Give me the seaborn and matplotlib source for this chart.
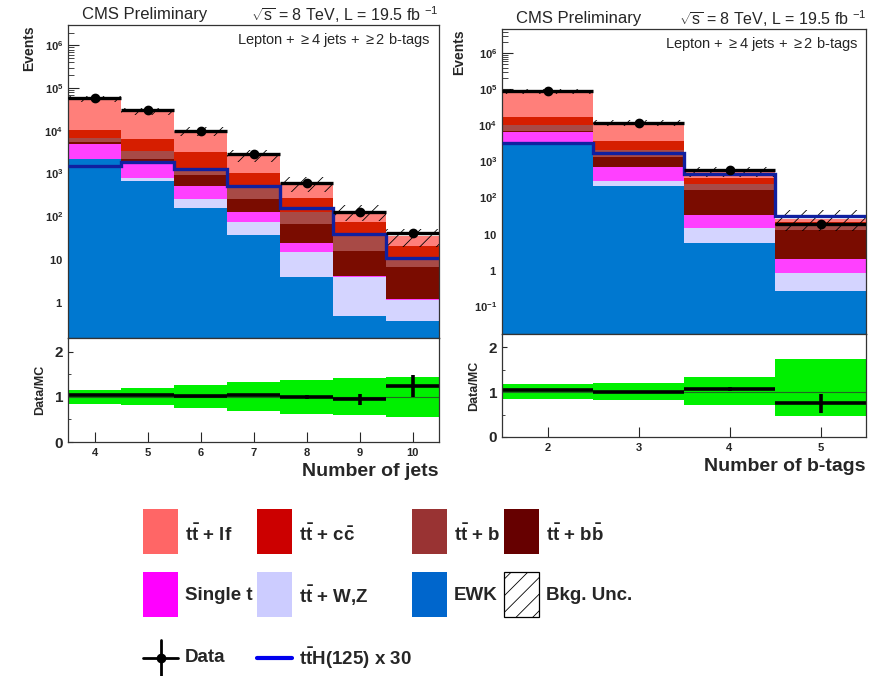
import numpy as np
import pandas as pd
import matplotlib
matplotlib.use('Agg')
import matplotlib.pyplot as plt
import seaborn as sns
from matplotlib.patches import Rectangle
from matplotlib.lines import Line2D
from matplotlib.ticker import FixedLocator, FuncFormatter, MultipleLocator

sns.set_style('ticks')
plt.rcParams['font.family'] = ['Liberation Sans', 'DejaVu Sans']
plt.rcParams['mathtext.fontset'] = 'custom'
plt.rcParams['mathtext.rm'] = 'Liberation Sans'
plt.rcParams['mathtext.bf'] = 'Liberation Sans:bold'
plt.rcParams['mathtext.it'] = 'Liberation Sans:italic'
plt.rcParams['hatch.linewidth'] = 0.6

# --- data -------------------------------------------------------------
processes = ['ttlf', 'ttcc', 'ttb', 'ttbb', 'singlet', 'ttV', 'ewk']
colors = {'ttlf': '#FF7F7A', 'ttcc': '#D61E00', 'ttb': '#A84A46', 'ttbb': '#7A0C00',
          'singlet': '#FF40FF', 'ttV': '#D4D4FF', 'ewk': '#0078D0'}
leg_colors = {'ttlf': '#FF6666', 'ttcc': '#CC0000', 'ttb': '#993333', 'ttbb': '#660000',
              'singlet': '#FF00FF', 'ttV': '#CCCCFF', 'ewk': '#0066CC'}

# number of jets
njets = [4, 5, 6, 7, 8, 9, 10]
jets_yields = {
    'ewk':     [2150, 670, 158, 36, 3.85, 0.45, 0.35],
    'ttV':     [60, 130, 92, 37, 10.6, 3.4, 0.75],
    'singlet': [2800, 1150, 270, 54, 9.5, 0.1, 0.05],
    'ttbb':    [350, 250, 380, 130, 43, 11.5, 5.4],
    'ttb':     [1550, 1180, 340, 223, 60, 18.6, 3.0],
    'ttcc':    [3400, 2920, 1860, 520, 140, 37, 10.1],
    'ttlf':    [47000, 22300, 6700, 1720, 339, 61, 15],
}
jets_data = [59000, 30000, 9900, 2800, 600, 128, 41]
jets_tth = [1500, 1900, 1300, 510, 158, 39, 10.7]
jets_unc = [0.16, 0.19, 0.25, 0.32, 0.38, 0.41, 0.44]
jets_ratio = [1.03, 1.05, 1.01, 1.03, 0.99, 0.94, 1.24]
jets_ratio_err = [0.01, 0.01, 0.015, 0.02, 0.05, 0.12, 0.24]

# number of b-tags
nbtags = [2, 3, 4, 5]
btag_yields = {
    'ewk':     [3000, 210, 5.6, 0.26],
    'ttV':     [150, 75, 8.8, 0.55],
    'singlet': [3520, 425, 19.6, 1.2],
    'ttbb':    [430, 590, 126, 10.9],
    'ttb':     [3100, 750, 85, 3.8],
    'ttcc':    [7300, 1650, 115, 3.9],
    'ttlf':    [71000, 8000, 160, 4.7],
}
btag_data = [92000, 11800, 600, 19]
btag_tth = [3300, 1740, 445, 30]
btag_unc_up = [0.18, 0.20, 0.35, 0.74]
btag_unc_dn = [0.16, 0.18, 0.29, 0.53]
btag_ratio = [1.04, 1.01, 1.07, 0.75]
btag_ratio_err = [0.01, 0.015, 0.04, 0.22]

W, H = 881, 676
fig = plt.figure(figsize=(W / 100, H / 100), dpi=100)


def box(x0, y0, x1, y1):
    return [x0 / W, 1 - y1 / H, (x1 - x0) / W, (y1 - y0) / H]


def log_fmt(v, pos):
    e = int(round(np.log10(v)))
    if e == 0:
        return r'$\mathbf{1}$'
    if e == 1:
        return r'$\mathbf{10}$'
    return r'$\mathbf{10^{%d}}$' % e


def draw_panel(ax, rax, x, yields, data, tth, unc_up, unc_dn, ratio, ratio_err,
               ylim, xlabel):
    rows = []
    for p in processes:
        for xi, v in zip(x, yields[p]):
            rows.append({'x': xi, 'process': p, 'events': v})
    df = pd.DataFrame(rows)
    sns.histplot(data=df, x='x', weights='events', hue='process', hue_order=processes,
                 multiple='stack', discrete=True, palette=colors, alpha=1,
                 linewidth=0, legend=False, ax=ax)
    ax.set_yscale('log')
    total = np.sum([yields[p] for p in processes], axis=0)
    x = np.array(x)
    lo = total * (1 - np.array(unc_dn))
    hi = total * (1 + np.array(unc_up))
    ax.bar(x, hi - lo, bottom=lo, width=1, facecolor='none', edgecolor='black',
           linewidth=0, hatch='//', zorder=3)
    edges = np.append(x - 0.5, x[-1] + 0.5)
    ax.stairs(tth, edges, baseline=None, color='#1020A0', linewidth=2.4, zorder=4)
    ax.errorbar(x, data, xerr=0.5, yerr=np.sqrt(data), fmt='o', color='black',
                markersize=6, elinewidth=2.4, capsize=0, zorder=5)
    ax.set_xlim(edges[0], edges[-1])
    ax.set_ylim(*ylim)
    ax.set_xlabel('')
    ax.set_ylabel('Events', loc='top', fontweight='bold', fontsize=10, labelpad=6)
    ax.set_xticks(x)
    ax.tick_params(axis='x', labelbottom=False, direction='in', length=7)
    ax.tick_params(axis='y', which='both', direction='in', labelsize=8)
    ax.tick_params(axis='y', which='major', length=8)
    ax.tick_params(axis='y', which='minor', length=4)
    decades = [10.0 ** e for e in range(-1, 7) if ylim[0] <= 10.0 ** e <= ylim[1]]
    ax.yaxis.set_major_locator(FixedLocator(decades))
    ax.yaxis.set_major_formatter(FuncFormatter(log_fmt))

    # ratio panel
    rax.bar(x, np.array(unc_up) + np.array(unc_dn), bottom=1 - np.array(unc_dn),
            width=1, color='#00F000', linewidth=0)
    rax.axhline(1, color='#226622', linewidth=0.8)
    rax.errorbar(x, ratio, xerr=0.5, yerr=ratio_err, fmt='none', ecolor='black',
                 elinewidth=2.6, capsize=0)
    rax.set_xlim(edges[0], edges[-1])
    rax.set_ylim(0, 2.3)
    rax.set_xticks(x)
    rax.set_xticklabels([str(v) for v in x], fontweight='bold', fontsize=8)
    rax.yaxis.set_minor_locator(MultipleLocator(0.5))
    rax.set_yticks([0, 1, 2])
    rax.set_yticklabels(['0', '1', '2'], fontweight='bold', fontsize=11)
    rax.tick_params(which='both', direction='in')
    rax.tick_params(axis='x', length=7, pad=4)
    rax.set_ylabel('Data/MC', fontweight='bold', fontsize=9, labelpad=6)
    rax.set_xlabel(xlabel, loc='right', fontweight='bold', fontsize=14, labelpad=4)
    for a in (ax, rax):
        for s in a.spines.values():
            s.set_linewidth(0.9)
            s.set_color('#333333')


ax1 = fig.add_axes(box(68, 25, 439, 338))
rax1 = fig.add_axes(box(68, 338, 439, 442))
draw_panel(ax1, rax1, njets, jets_yields, jets_data, jets_tth, jets_unc, jets_unc,
           jets_ratio, jets_ratio_err, (0.14, 3e6), 'Number of jets')

ax2 = fig.add_axes(box(502, 29, 866, 334))
rax2 = fig.add_axes(box(502, 334, 866, 437))
draw_panel(ax2, rax2, nbtags, btag_yields, btag_data, btag_tth, btag_unc_up, btag_unc_dn,
           btag_ratio, btag_ratio_err, (0.0166, 4.7e6), 'Number of b-tags')

energy = r'$\sqrt{\mathrm{s}}$ = 8 TeV, L = 19.5 fb $^{-1}$'
for xl, xr, yt, ysel, xsel in [(82, 438, 15, 40, 430), (516, 866, 19, 44, 858)]:
    fig.text(xl / W, 1 - yt / H, 'CMS Preliminary', fontsize=12, va='center', ha='left')
    fig.text(xr / W, 1 - yt / H, energy, fontsize=11.5, va='center', ha='right')
    fig.text(xsel / W, 1 - ysel / H, r'Lepton + $\geq$4 jets + $\geq$2 b-tags',
             fontsize=10.5, va='center', ha='right')

# --- legend -----------------------------------------------------------
lax = fig.add_axes([0, 0, 1, 1])
lax.set_xlim(0, W)
lax.set_ylim(H, 0)
lax.axis('off')
tt = r'$\mathbf{t\bar{t}}$'
leg_rows = [
    [('ttlf', tt + ' + lf'), ('ttcc', tt + r' + $\mathbf{c\bar{c}}$'),
     ('ttb', tt + ' + b'), ('ttbb', tt + r' + $\mathbf{b\bar{b}}$')],
    [('singlet', 'Single t'), ('ttV', tt + ' + W,Z'), ('ewk', 'EWK'), ('unc', 'Bkg. Unc.')],
]
col_x = [143, 257, 412, 504]
row_y = [(509, 554, 534), (572, 617, 596)]
for (y0, y1, yt), row in zip(row_y, leg_rows):
    for cx, (key, label) in zip(col_x, row):
        if key == 'unc':
            lax.add_patch(Rectangle((cx, y0), 35, y1 - y0, facecolor='white',
                                    edgecolor='black', linewidth=0.9, hatch='//'))
        else:
            lax.add_patch(Rectangle((cx, y0), 35, y1 - y0, facecolor=leg_colors[key],
                                    linewidth=0))
        lax.text(cx + 42, yt, label, fontsize=13.5, fontweight='bold', va='center', ha='left')

lax.add_line(Line2D([143, 178], [658, 658], color='black', linewidth=2))
lax.add_line(Line2D([160.5, 160.5], [640, 676], color='black', linewidth=2))
lax.plot([160.5], [658], 'o', color='black', markersize=6)
lax.text(185, 658, 'Data', fontsize=13.5, fontweight='bold', va='center', ha='left')
lax.add_line(Line2D([257, 292], [658, 658], color='#0000EE', linewidth=3))
lax.text(299, 658, tt + 'H(125) x 30', fontsize=13.5, fontweight='bold', va='center', ha='left')

fig.savefig('out.png', dpi=100)
